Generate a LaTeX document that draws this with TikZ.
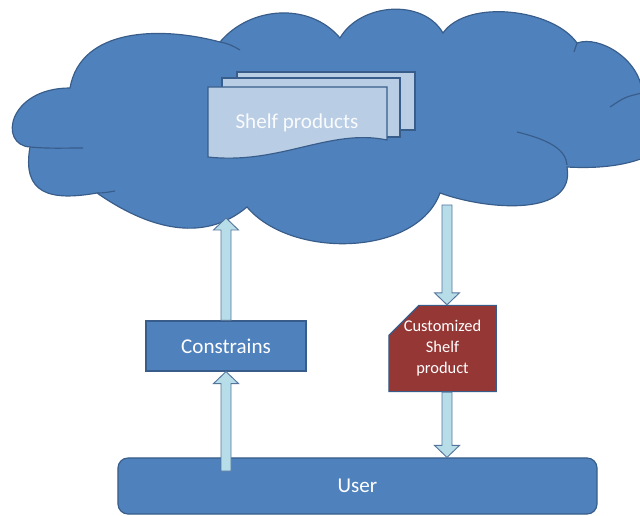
\documentclass[tikz,border=0pt]{standalone}
\usepackage{fontspec}
\setmainfont{Carlito}
\usetikzlibrary{shapes.misc,calc}
\definecolor{cloudblue}{HTML}{4F81BD}
\definecolor{edgeblue}{HTML}{385D8A}
\definecolor{pageblue}{HTML}{B9CDE5}
\definecolor{arrowfill}{HTML}{B7DEE8}
\definecolor{darkred}{HTML}{953735}

% block arrow from #1 to #2
\newcommand{\fatarrow}[2]{%
  \coordinate (fa-h) at ($(#2)!0.36cm!(#1)$);
  \draw[fatarr] ($(#1)!0.15cm!90:(#2)$) -- ($(fa-h)!0.15cm!-90:(#1)$)
    -- ($(fa-h)!0.375cm!-90:(#1)$) -- (#2) -- ($(fa-h)!0.375cm!90:(#1)$)
    -- ($(fa-h)!0.15cm!90:(#1)$) -- ($(#1)!0.15cm!-90:(#2)$) -- cycle;}

\begin{document}
\begin{tikzpicture}[x=0.03cm,y=0.03cm,
  bluebox/.style={rectangle,draw=edgeblue,fill=cloudblue,line width=1pt,text=white,font=\fontsize{18}{20}\selectfont},
  page/.style={draw=edgeblue,fill=pageblue,line width=1pt},
  puff/.style={draw=edgeblue,line width=1pt},
  fatarr/.style={fill=arrowfill,draw=edgeblue!85,line width=0.8pt}]
\useasboundingbox (0,0) rectangle (640,-516);
\clip (0,0) rectangle (640,-516);

% cloud outline, lobe by lobe
\draw [puff,fill=cloudblue] (70,-88) to[out=80,in=165] (220,-42)
  to[out=50,in=130] (340,-38)
  to[out=60,in=120] (443,-33)
  to[out=55,in=125,looseness=0.8] (577,-43)
  .. controls (600,-35) and (640,-60) .. (642,-92)
  .. controls (700,-82) and (705,-175) .. (567,-167)
  to[out=-80,in=-20] (440,-193)
  to[out=-110,in=-50,looseness=0.9] (247,-207)
  to[out=-140,in=-35] (97,-193)
  to[out=190,in=-100,looseness=1.5] (30,-147)
  .. controls (-2,-145) and (8,-88) .. (70,-88) -- cycle;
% inner creases
\draw [puff] (30,-147) to[out=-5,in=180] (83,-148);
\draw [puff] (97,-193) to[out=0,in=190] (115,-191);
\draw [puff] (220,-42) to[out=-10,in=150] (240,-50);
\draw [puff] (642,-93) .. controls (625,-97) .. (610,-107);
\draw [puff] (517,-132) .. controls (550,-140) and (566,-150) .. (567,-165);
\draw [puff] (577,-43) to[out=-100,in=80] (574,-52);

% stack of pages
\draw [page] (237,-72) rectangle (415,-130);
\draw [page] (222,-78) rectangle (400,-137);
\draw [page] (208,-87) -- (387,-87) -- (387,-140)
  .. controls (330,-128) and (280,-165) .. (208,-157) -- cycle;
\node [text=white!92!pageblue,font=\fontsize{18}{20}\selectfont] (shelf) at (297,-123) {Shelf products};

\node [bluebox,minimum width=4.8cm,minimum height=1.5cm] (cons) at (226,-346) {Constrains};
\node [chamfered rectangle,chamfered rectangle corners=north west,chamfered rectangle sep=0.45cm,
  draw=edgeblue,fill=darkred,line width=1pt,text=white,align=center,inner sep=0pt,
  minimum width=2.97cm,minimum height=2.49cm,font=\fontsize{14}{18}\selectfont]
  (cust) at (442.5,-348.5) {Customized\\Shelf\\product};
\node [bluebox,rounded corners=0.3cm,minimum width=14.37cm,minimum height=1.68cm] (user) at (357.5,-486) {User};

\coordinate (cin) at (226,-218);
\coordinate (cout) at (447,-205);
\coordinate (utail) at (226,-471);
\coordinate (cust-top) at (cust.north -| cout);
\coordinate (cust-bot) at (cust.south -| cout);
\coordinate (user-top) at (user.north -| cout);

\fatarrow{utail}{cons.south}
\fatarrow{cons.north}{cin}
\fatarrow{cout}{cust-top}
\fatarrow{cust-bot}{user-top}
\end{tikzpicture}
\end{document}
